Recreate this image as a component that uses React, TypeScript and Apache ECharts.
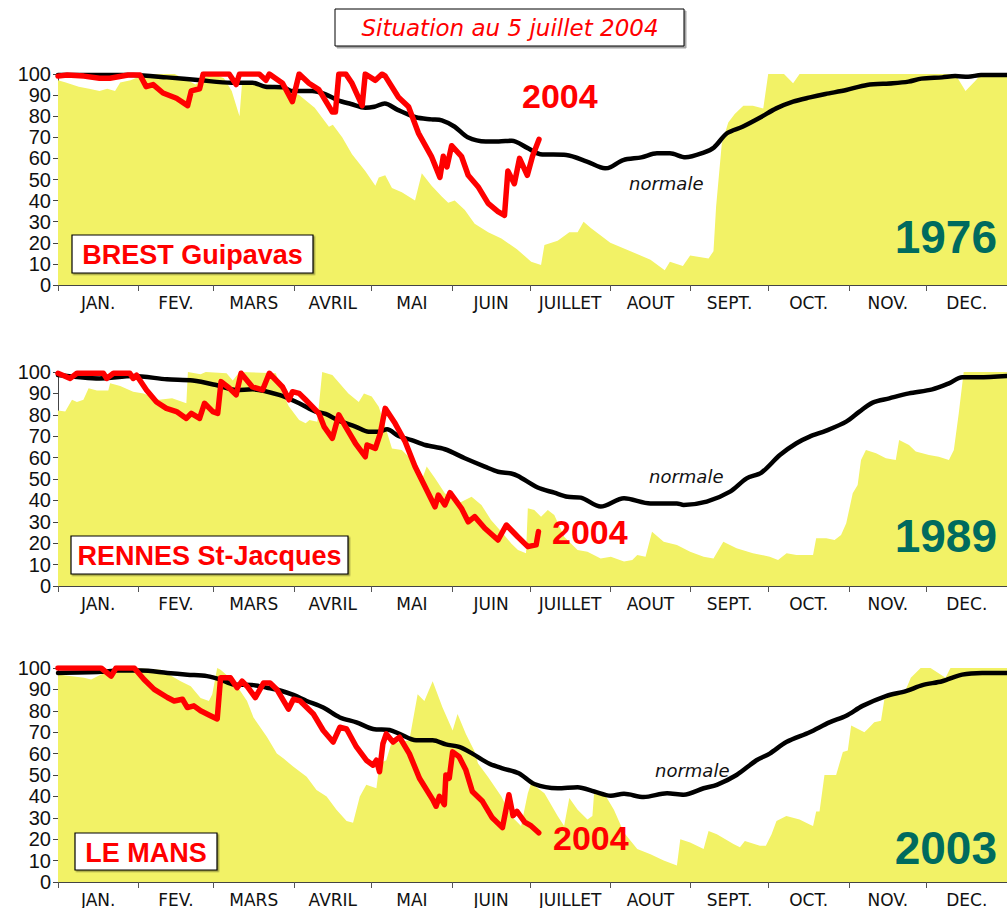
import React, { useEffect, useRef } from "react";
import * as echarts from "echarts";

// Day-of-year axis (leap year)
const MONTHS = ["JAN.", "FEV.", "MARS", "AVRIL", "MAI", "JUIN", "JUILLET", "AOUT", "SEPT.", "OCT.", "NOV.", "DEC."];
const MONTH_STARTS = [0, 31, 60, 91, 121, 152, 182, 213, 244, 274, 305, 335, 366];
const Y_TICKS = [0, 10, 20, 30, 40, 50, 60, 70, 80, 90, 100];

// ---- BREST Guipavas ----
const brestRef1976 = [
  [0, 97], [3, 96], [8, 94], [12, 93], [16, 92], [19, 93], [22, 92], [24, 96], [28, 97], [32, 99], [38, 100], [45, 100],
  [50, 97], [53, 95], [56, 98], [60, 100], [64, 98], [67, 92], [70, 80], [71, 96], [76, 95], [82, 95], [88, 93], [93, 90],
  [99, 84], [104.5, 75], [106, 76], [109.6, 70], [113.4, 62], [118.5, 54], [122.4, 47], [123.7, 51], [126.2, 52], [128.8, 46],
  [132.6, 44], [137.7, 40], [140.3, 53], [144.1, 47], [148, 42], [150.5, 39], [153, 40], [156.9, 35.5], [160.7, 29], [165.9, 25],
  [171, 22], [177, 17], [182.5, 11], [186.3, 9.5], [187.6, 19], [192.7, 21], [197.2, 25], [200.4, 25], [202.7, 30], [205.5, 27],
  [213, 20], [220.8, 16], [228.5, 12], [234, 7], [236, 11], [241, 9], [243.8, 14], [250.9, 12.6], [252.8, 16], [253.8, 37],
  [256, 67], [258.5, 77], [261, 81], [264.3, 85], [268, 85], [272, 83.7], [273.9, 100], [280, 100], [283.5, 95.6], [286, 100],
  [346, 100], [350, 92], [354, 97], [356, 100], [366, 100],
];
const brestNormal = [
  [0, 99.5], [29, 99.5], [42, 98.4], [55, 97], [67, 95.9], [75, 95.9], [80, 94], [87, 93.7], [90, 92], [98, 92], [103, 90.5],
  [108, 87.5], [113, 85.8], [118.5, 84], [122, 84.5], [126, 86], [131, 83], [138, 79.5], [144, 78.5], [148, 78], [153, 75],
  [158, 70], [165, 68], [170, 68], [175, 68.4], [181, 65], [186, 62], [196, 61.6], [204, 58.5], [211, 55.3], [213, 55.8],
  [218, 59.2], [225, 60.5], [231, 62.4], [236, 62.4], [242, 60.5], [249, 62.7], [253, 65.2], [258, 71.9], [264, 75],
  [271, 79.5], [277, 83.7], [283.5, 86.9], [290, 88.9], [296, 90.5], [304, 92.4], [312, 94.8], [322, 95.6], [328, 96.4],
  [333, 97.8], [341, 98.4], [346, 99], [351, 98.7], [356, 99.5], [366, 99.5],
];
const brest2004 = [
  [0, 99], [3.5, 99.5], [10, 99], [16, 98], [20, 98], [27, 99.5], [31.6, 99.5], [34, 94], [36.7, 95], [40.5, 91], [45.7, 88.5],
  [50, 85], [51.4, 92], [54.6, 93], [56, 100], [66, 100], [68.7, 95], [70, 100], [77.6, 100], [80.2, 97], [81.5, 100],
  [86.6, 95.6], [90.4, 86.9], [93, 100], [96.8, 95.6], [100.6, 92.6], [105.8, 82], [107, 82], [108.3, 100], [111, 100],
  [113.4, 95.6], [117.3, 85], [118.5, 100], [122.4, 97], [125, 100], [126.2, 99], [131.3, 89], [135.2, 84.5], [139, 72],
  [144, 61], [147.3, 51], [148.6, 61], [150, 56], [151.8, 66], [155.6, 61], [158.2, 52], [162, 46.6], [165.9, 38.7],
  [169.7, 34.8], [172.2, 33], [173.5, 54], [176, 48], [178, 60], [181, 52], [183, 61], [185.5, 69],
];

// ---- RENNES St-Jacques ----
const rennesRef1989 = [
  [0, 82], [2.8, 81.5], [5.4, 87], [7.3, 86], [9.8, 87], [11.8, 92.4], [15, 91.3], [19.4, 91.3], [20.1, 94.7], [24, 93.5],
  [29, 90.8], [33, 90], [39, 87], [44, 87.7], [49.5, 85.4], [50.1, 100], [55, 99], [57, 100], [65, 99.4], [67.4, 96], [70, 100],
  [84, 99.4], [86.6, 90], [89, 84], [93, 77.6], [95.5, 76], [97, 77.6], [100, 76.8], [101.9, 100], [105.8, 98.6], [112, 90],
  [116, 86], [118, 90], [121, 88.5], [123.7, 83.8], [126.2, 74.5], [128.8, 64.3], [132.6, 63.6], [136.4, 59], [140.3, 49.5],
  [142.2, 55.8], [145.4, 50.3], [149.2, 43.3], [154.3, 38.6], [159.5, 41.7], [163.3, 37.9], [167, 30.8], [171, 25.4],
  [174.8, 19.9], [177.4, 16.8], [180.5, 15.3], [181.2, 36.3], [183.7, 35.5], [186.3, 32.4], [188.9, 35.5], [191.4, 33.2],
  [195.2, 23], [200.4, 16.8], [204.2, 16], [209.3, 12.9], [213.2, 13.7], [218.3, 11.4], [221.5, 12.1], [223.4, 14.5],
  [226.6, 13.7], [229.1, 25.4], [233.6, 20.7], [238.7, 19.2], [243.8, 16], [249, 13.7], [252.8, 12.9], [256.6, 20.7],
  [261.7, 17.6], [268, 15.3], [274.5, 13.7], [277.7, 12.1], [281, 15.3], [284.8, 14.5], [291.2, 14.5], [292.4, 22.3],
  [296.3, 22.3], [299.5, 21.5], [302, 23.8], [304, 29.3], [306.5, 43.3], [308.4, 47.2], [309.7, 58.9], [311.6, 63.6],
  [315.5, 62], [319.3, 59.7], [323.1, 58.9], [324.4, 68.2], [328.2, 65.9], [330.8, 62.8], [335.9, 61.2], [339.7, 60.4],
  [343.6, 58.9], [345.5, 63.6], [347.4, 80.7], [349.3, 100], [366, 100],
];
const rennesNormal = [
  [0, 98.6], [16, 97], [29, 98.1], [42, 96.6], [52, 96], [61, 93.9], [68.7, 91.6], [75, 91.9], [85.3, 89.3], [93, 85.4],
  [99.4, 81.5], [103.2, 80.4], [108.3, 77.3], [114.7, 74.5], [119.8, 72.1], [123.7, 72.1], [126.9, 73.2], [131.3, 70.1],
  [136.4, 68.2], [141.6, 65.9], [149.2, 63.9], [156.9, 59.7], [164.6, 55.8], [169.7, 53.4], [174.8, 52.6], [177.4, 51.4],
  [185, 46], [191.4, 43.6], [196.5, 41.7], [201.6, 41.3], [209.3, 37.1], [218.3, 41], [228.5, 38.6], [238.7, 38.6],
  [241.3, 37.9], [250.2, 39.4], [259.2, 44.1], [265.6, 50.3], [271.3, 53], [278.4, 61.2], [284.8, 66.7], [289.9, 69.8],
  [296.3, 72.6], [304, 76.8], [309.1, 81.5], [314.2, 85.7], [320.6, 87.7], [328.2, 90], [337.2, 91.9], [343.6, 94.7],
  [348.7, 97.5], [355.1, 97.5], [366, 98.1],
];
const rennes2004 = [
  [0, 99.4], [4.7, 97], [7.3, 99.4], [17.5, 99.4], [18.8, 97], [21.4, 99.4], [27.7, 99.4], [29, 97], [30.3, 98.5],
  [34.1, 91.6], [38, 86], [41.8, 83], [45.7, 81.5], [49.5, 78.3], [51.4, 80.7], [54.6, 78.3], [56.5, 85.4], [59.7, 81.5],
  [61.6, 80.7], [62.9, 95.5], [66.1, 92.4], [68.7, 89.3], [70.6, 99.4], [75, 93], [78.9, 91.6], [81.5, 99.4], [86.6, 93],
  [89.1, 87], [90.4, 90.8], [93, 90], [95.5, 87], [100.6, 80.7], [102.6, 74.5], [105.8, 69], [108.3, 80], [110.9, 74.5],
  [114.7, 66.7], [118.5, 60.4], [119.2, 65.9], [122.4, 64.3], [124.3, 71.3], [126.2, 83], [130, 76], [133.9, 67.4],
  [137.7, 55.8], [140.9, 48], [144.1, 40.2], [145.4, 37], [146.7, 42.5], [149.2, 37.9], [151.2, 43.6], [155.6, 36.3],
  [158.2, 30], [160.7, 32.4], [164.6, 27], [169.7, 21.5], [172.9, 28.5], [177.3, 23], [181.2, 18.4], [184.4, 19.2], [185.3, 25.4],
];

// ---- LE MANS ----
const lemansRef2003 = [
  [0, 97], [10, 95.4], [12.8, 94.6], [16.6, 97], [20.5, 98.5], [29.4, 100], [39.6, 99.2], [47.3, 93.8], [51.2, 91.5], [55, 86],
  [58.2, 84.6], [59.5, 87.7], [61.4, 100], [62.7, 99.2], [67.8, 93.8], [72.9, 84.6], [75.4, 76.9], [80.6, 67.7], [84.4, 60],
  [87, 57.7], [90.8, 53.8], [95.9, 49.2], [99.7, 43], [103.6, 40], [107.4, 33.8], [111.3, 28.5], [113.8, 27.7], [116.4, 40],
  [118.9, 45.4], [122.8, 43.8], [124, 55.4], [126.6, 56.9], [128.5, 64.6], [135.5, 66.2], [138.7, 87.7], [141.3, 84.6],
  [144.5, 93.8], [148.3, 81.5], [152.2, 70.8], [154.1, 78.5], [157.3, 69.2], [160.5, 61.5], [162, 55.4], [165.8, 49.2],
  [171, 40], [174.8, 30.8], [178.6, 26.2], [181.2, 41.5], [182.5, 46.2], [187.6, 41.5], [192.7, 30.8], [195.2, 26.2],
  [197.2, 39.2], [200.4, 33.8], [204.2, 29.2], [206.1, 30.8], [206.8, 42.3], [210.6, 41.5], [214.4, 33.8], [218.3, 23],
  [223.4, 15.4], [228.5, 13], [233.6, 10], [238.7, 7.7], [240, 20], [243.8, 18.5], [249, 15.4], [250.9, 23.8], [254.1, 22.3],
  [260.5, 17.7], [263, 16.2], [264.9, 19.2], [270.7, 16.9], [273, 16.9], [275.2, 22.3], [277.1, 28.5], [280.9, 30.8],
  [286, 29.2], [289.9, 26.9], [291.2, 26.2], [292.4, 33], [293.7, 33], [295.6, 50], [300.1, 50], [302.7, 60.8], [304.6, 61.5],
  [305.9, 73.1], [311, 70], [312.3, 71.5], [314.8, 74.6], [317.4, 75.4], [318.7, 85.4], [327, 90], [328.9, 95.4], [332.7, 100],
  [336.5, 100], [342.3, 95.4], [344.2, 100], [366, 100],
];
const lemansNormal = [
  [0, 97.7], [16.6, 98.2], [23, 98.8], [32, 98.8], [42.2, 97.7], [49.9, 96.9], [57.5, 96.2], [62.7, 94.6], [67.8, 92.3],
  [75.4, 92], [80.6, 90.8], [85.7, 89.5], [90.8, 87.4], [95.9, 84.6], [102.3, 81.5], [108.7, 76.9], [115.1, 74.6],
  [121.5, 71.5], [127.9, 71], [131.7, 69.2], [138.1, 66.2], [144.5, 66.2], [149.6, 64.3], [154.7, 63.1], [159.8, 60],
  [166.2, 55.4], [171.4, 53.1], [177.7, 50.8], [183.7, 45.8], [192.7, 43.8], [200.4, 44.3], [206.8, 42.3], [213.2, 40.3],
  [218.3, 41.2], [225.9, 39.7], [234.9, 41.5], [241.3, 40.8], [249, 43.8], [254.1, 45.4], [261.7, 50], [269.4, 56.9],
  [274.5, 60], [280.9, 65.4], [289.9, 70], [297.5, 74.6], [304, 77.7], [310.3, 82.3], [319.3, 86.9], [327, 89.2],
  [333.4, 92], [341, 93.8], [348.7, 96.9], [356.4, 97.7], [366, 97.7],
];
const lemans2004 = [
  [0, 100], [16.6, 100], [20.5, 96.2], [22.4, 100], [29.4, 100], [33.2, 94.6], [37.1, 90], [42.2, 86.2], [44.8, 84.6],
  [48, 85.4], [49.9, 81.5], [52.4, 82.3], [55, 80], [58.8, 77.7], [61.4, 76.2], [62.7, 95.4], [66.5, 95.4], [69.1, 90.8],
  [71, 93.8], [72.9, 91.5], [76.1, 86.2], [79.3, 93], [81.8, 93], [84.4, 90], [88.9, 80.8], [90.8, 85.4], [93.4, 84.6],
  [98.5, 78.5], [102.3, 70.8], [106.1, 65.4], [108.7, 72.3], [111.3, 71.5], [115.1, 63.1], [118.9, 56.9], [121.5, 54.6],
  [122.8, 56.9], [124, 51.5], [125.3, 64.6], [126.6, 69.2], [129.2, 65.4], [131.7, 67.7], [135.5, 60], [139.4, 48.5],
  [144.5, 38.5], [145.8, 35.4], [147.1, 40], [149, 36.2], [149.6, 50], [150.9, 48.5], [152.2, 60.8], [154.7, 58.5],
  [157.3, 52.3], [159.8, 42.3], [163.7, 37.7], [167.5, 30], [171.4, 25.4], [173.9, 40.8], [175.5, 31], [177, 33], [180, 28],
  [182.5, 26.2], [185.4, 23],
];

const PANELS = [
  { ref: brestRef1976, normal: brestNormal, cur: brest2004, station: "BREST Guipavas", year: "1976" },
  { ref: rennesRef1989, normal: rennesNormal, cur: rennes2004, station: "RENNES St-Jacques", year: "1989" },
  { ref: lemansRef2003, normal: lemansNormal, cur: lemans2004, station: "LE MANS", year: "2003" },
];

// layout (pixels)
const GRIDS = [
  { top: 74, height: 211 },
  { top: 372, height: 214 },
  { top: 668, height: 217 },
];
const STATION_BOX = [
  { x: 72, y: 235, w: 241, h: 38 },
  { x: 71, y: 536, w: 277, h: 38 },
  { x: 75, y: 833, w: 142, h: 37 },
];
const YEAR_POS = [
  { x: 997, y: 237 },
  { x: 997, y: 536 },
  { x: 997, y: 848 },
];
const CUR_POS = [
  { x: 522, y: 96 },
  { x: 552, y: 532 },
  { x: 553, y: 838 },
];
const NORM_POS = [
  { x: 629, y: 183 },
  { x: 649, y: 476 },
  { x: 655, y: 770 },
];

const YELLOW = "#F2F266";
const RED = "#FF0000";
const TEAL = "#006B5E";

export default function App() {
  const ref = useRef<HTMLDivElement>(null);
  useEffect(() => {
    if (!ref.current) return;
    const chart = echarts.init(ref.current, null, { renderer: "svg" });
    const mids = MONTHS.map((_, i) => (MONTH_STARTS[i] + MONTH_STARTS[i + 1]) / 2);

    const grid = GRIDS.map((g) => ({ left: 58, width: 954, top: g.top, height: g.height }));
    const xAxis = GRIDS.map((_, i) => ({
      type: "value",
      gridIndex: i,
      min: 0,
      max: 366,
      splitLine: { show: false },
      axisLine: { show: true, lineStyle: { color: "#444", width: 1 } },
      axisTick: { show: true, length: 6, customValues: MONTH_STARTS, lineStyle: { color: "#555" } },
      axisLabel: {
        show: true,
        customValues: mids,
        margin: 9,
        fontSize: 17,
        fontFamily: "DejaVu Sans",
        color: "#111",
        formatter: (v: number) => {
          let best = 0;
          mids.forEach((m, k) => {
            if (Math.abs(m - v) < Math.abs(mids[best] - v)) best = k;
          });
          return MONTHS[best];
        },
      },
    }));
    const yAxis = GRIDS.map((_, i) => ({
      type: "value",
      gridIndex: i,
      min: 0,
      max: 100,
      interval: 10,
      splitLine: { show: false },
      axisLine: { show: true, lineStyle: { color: "#444", width: 1 } },
      axisTick: { show: true, length: 5, lineStyle: { color: "#444" } },
      axisLabel: {
        margin: 7,
        fontSize: 20,
        fontFamily: "Liberation Sans",
        color: "#111",
        customValues: Y_TICKS,
      },
    }));

    const series: any[] = [];
    PANELS.forEach((p, i) => {
      series.push({
        type: "line",
        xAxisIndex: i,
        yAxisIndex: i,
        data: p.ref,
        showSymbol: false,
        symbol: "none",
        lineStyle: { width: 0, color: YELLOW },
        areaStyle: { color: YELLOW, opacity: 1 },
        z: 1,
      });
      series.push({
        type: "line",
        xAxisIndex: i,
        yAxisIndex: i,
        data: p.normal,
        showSymbol: false,
        symbol: "none",
        smooth: 0.3,
        lineStyle: { width: 4.5, color: "#000", cap: "round", join: "round" },
        z: 2,
      });
      series.push({
        type: "line",
        xAxisIndex: i,
        yAxisIndex: i,
        data: p.cur,
        showSymbol: false,
        symbol: "none",
        lineStyle: { width: 5.5, color: RED, cap: "round", join: "round" },
        z: 3,
      });
    });

    const graphic: any[] = [
      {
        type: "rect",
        shape: { x: 335, y: 9, width: 349, height: 37 },
        style: { fill: "#fff", stroke: "#000", lineWidth: 1, shadowColor: "rgba(0,0,0,0.35)", shadowOffsetX: 2, shadowOffsetY: 2 },
        z: 10,
      },
      {
        type: "text",
        x: 510,
        y: 28,
        style: {
          text: "Situation au 5 juillet 2004",
          fill: RED,
          font: "italic 23px 'DejaVu Sans'",
          align: "center",
          verticalAlign: "middle",
        },
        z: 11,
      },
    ];
    PANELS.forEach((p, i) => {
      const b = STATION_BOX[i];
      graphic.push({
        type: "rect",
        shape: { x: b.x, y: b.y, width: b.w, height: b.h },
        style: { fill: "#fff", stroke: "#000", lineWidth: 1.2, shadowColor: "rgba(0,0,0,0.35)", shadowOffsetX: 1.5, shadowOffsetY: 1.5 },
        z: 10,
      });
      graphic.push({
        type: "text",
        x: b.x + b.w / 2,
        y: b.y + b.h / 2 + 1,
        style: {
          text: p.station,
          fill: RED,
          font: "bold 27px 'Liberation Sans'",
          align: "center",
          verticalAlign: "middle",
        },
        z: 11,
      });
      graphic.push({
        type: "text",
        x: YEAR_POS[i].x,
        y: YEAR_POS[i].y,
        style: {
          text: p.year,
          fill: TEAL,
          font: "bold 46px 'Liberation Sans'",
          align: "right",
          verticalAlign: "middle",
        },
        z: 11,
      });
      graphic.push({
        type: "text",
        x: CUR_POS[i].x,
        y: CUR_POS[i].y,
        style: {
          text: "2004",
          fill: RED,
          font: "bold 34px 'Liberation Sans'",
          align: "left",
          verticalAlign: "middle",
        },
        z: 11,
      });
      graphic.push({
        type: "text",
        x: NORM_POS[i].x,
        y: NORM_POS[i].y,
        style: {
          text: "normale",
          fill: "#111",
          font: "italic 18px 'DejaVu Sans'",
          align: "left",
          verticalAlign: "middle",
        },
        z: 11,
      });
    });

    chart.setOption({
      animation: false,
      backgroundColor: "#fff",
      grid,
      xAxis,
      yAxis,
      series,
      graphic,
    });
    return () => chart.dispose();
  }, []);
  return (
    <div
      ref={ref}
      style={{ position: "absolute", left: 0, top: 0, width: 1007, height: 908 }}
    />
  );
}
